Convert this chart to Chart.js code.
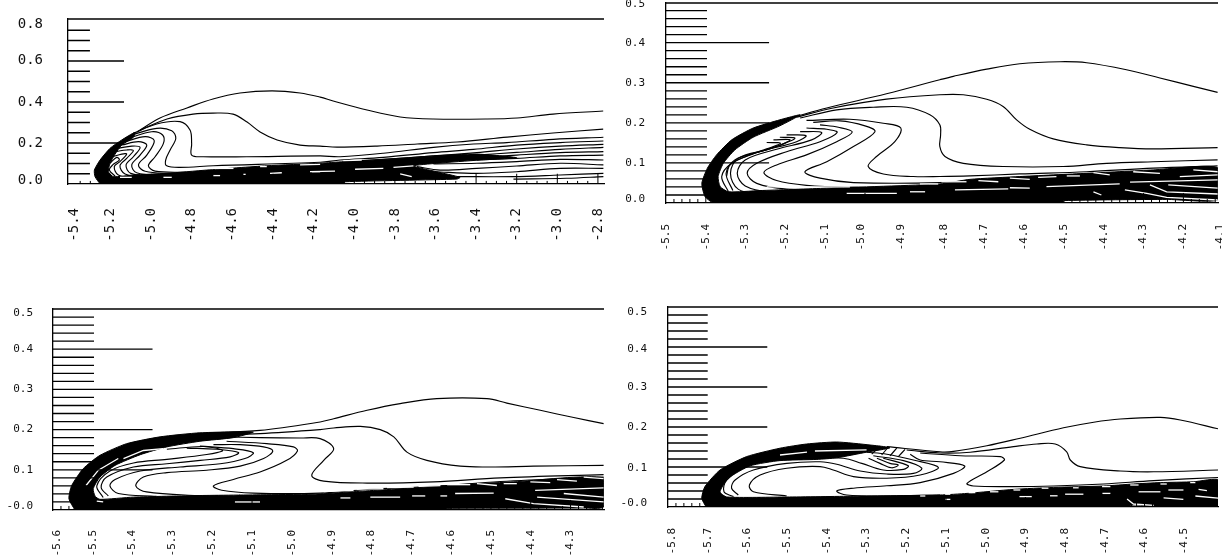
<!DOCTYPE html>
<html><head><meta charset="utf-8">
<script src="https://cdn.jsdelivr.net/npm/chart.js@4"></script>
<style>
html,body{margin:0;padding:0;background:#fff;width:1222px;height:560px;overflow:hidden}
canvas{position:absolute;display:block;filter:blur(0.3px)}
</style></head><body>
<canvas id="pa" style="left:0;top:0" width="612" height="280"></canvas>
<canvas id="pb" style="left:620px;top:0" width="602" height="280"></canvas>
<canvas id="pc" style="left:0;top:290px" width="612" height="270"></canvas>
<canvas id="pd" style="left:620px;top:290px" width="602" height="270"></canvas>
<script>
/* ---------- Panel A (top left) ---------- */
const aXTicks=[-5.38,-5.2,-5.0,-4.8,-4.6,-4.4,-4.2,-4.0,-3.8,-3.6,-3.4,-3.2,-3.0,-2.8];
const aXLabels=['-5.4','-5.2','-5.0','-4.8','-4.6','-4.4','-4.2','-4.0','-3.8','-3.6','-3.4','-3.2','-3.0','-2.8'];
const aYTicks=[0.02,0.2,0.4,0.605,0.78];
const aYLabels=['0.0','0.2','0.4','0.6','0.8'];
const aC1=[[-5.07,.254],[-4.957,.322],[-4.824,.371],[-4.696,.415],[-4.563,.444],[-4.405,.454],[-4.267,.444],[-4.168,.424],[-4.104,.405],[-3.937,.361],[-3.774,.327],[-3.612,.317],[-3.346,.317],[-3.198,.322],[-3.021,.341],[-2.774,.356]];
const aC2=[[-5.055,.263],[-4.922,.317],[-4.794,.341],[-4.696,.346],[-4.597,.341],[-4.528,.302],[-4.464,.254],[-4.38,.215],[-4.267,.19],[-4.168,.185],[-4.085,.18],[-3.888,.185],[-3.69,.195],[-3.494,.205],[-3.247,.229],[-3.021,.249],[-2.774,.268]];
const aC3=[[-5.088,.247],[-4.973,.293],[-4.858,.304],[-4.809,.263],[-4.801,.198],[-4.801,.141],[-4.743,.133],[-4.53,.133],[-4.168,.137],[-4.07,.133],[-3.857,.15],[-3.61,.179],[-3.413,.195],[-3.249,.202],[-3.019,.218],[-2.773,.228]];
const aC4=[[-5.096,.239],[-4.973,.2715],[-4.899,.26],[-4.879,.223],[-4.907,.166],[-4.929,.117],[-4.924,.089],[-4.858,.081],[-4.694,.089],[-4.168,.106],[-4.07,.117],[-3.857,.13],[-3.61,.153],[-3.413,.169],[-3.2,.19],[-2.986,.202],[-2.773,.21]];
const aC5=[[-5.113,.223],[-4.998,.255],[-4.944,.239],[-4.94,.198],[-4.981,.133],[-5.014,.089],[-4.981,.063],[-4.825,.057]];
const aC6=[[-5.129,.2065],[-5.03,.231],[-4.985,.211],[-5.022,.141],[-5.063,.093],[-5.03,.062],[-4.891,.049]];
const aC7=[[-5.145,.19],[-5.063,.2065],[-5.022,.19],[-5.055,.141],[-5.096,.093],[-5.072,.055],[-4.924,.039]];
const aC8=[[-5.162,.174],[-5.096,.185],[-5.055,.179],[-5.088,.133],[-5.124,.093],[-5.101,.052],[-4.957,.0325]];
const aC9=[[-5.178,.158],[-5.121,.166],[-5.088,.163],[-5.121,.125],[-5.154,.089],[-5.129,.049],[-5.006,.023]];
const aC10=[[-5.19,.133],[-5.145,.146],[-5.121,.146],[-5.154,.109],[-5.182,.085],[-5.162,.044],[-5.055,.02]];
const aC11=[[-5.203,.101],[-5.17,.13],[-5.157,.117],[-5.19,.093],[-5.206,.068],[-5.178,.039]];
const aF1=[[-4.054,.109],[-3.857,.12],[-3.61,.137],[-3.397,.153],[-3.2,.171],[-2.986,.185],[-2.773,.1935]];
const aF2=[[-3.857,.109],[-3.61,.125],[-3.397,.141],[-3.2,.154],[-2.986,.169],[-2.773,.179]];
const aF3=[[-3.61,.117],[-3.397,.128],[-3.2,.141],[-2.986,.153],[-2.773,.158]];
const aF4=[[-3.397,.117],[-3.2,.125],[-2.986,.137],[-2.773,.141]];
const aF5=[[-3.61,.098],[-3.397,.101],[-3.2,.109],[-2.986,.12],[-2.773,.117]];
const aF6=[[-3.692,.085],[-3.577,.068],[-3.397,.076],[-3.2,.088],[-2.986,.101],[-2.773,.093]];
const aF7=[[-3.61,.06],[-3.397,.052],[-3.2,.06],[-2.986,.076],[-2.773,.076]];
const aF8=[[-3.495,.036],[-3.216,.036],[-2.986,.044],[-2.773,.052]];
const aF9=[[-3.216,.024],[-2.954,.028],[-2.773,.036]];
const aMass=[[-5.252,0],[-5.277,.036],[-5.28,.068],[-5.252,.117],[-5.203,.174],[-5.145,.215],[-5.08,.252],[-5.088,.228],[-5.145,.19],[-5.178,.146],[-5.203,.101],[-5.211,.06],[-5.187,.036],[-5.088,.044],[-4.924,.052],[-4.727,.068],[-4.431,.089],[-4.168,.101],[-4.054,.109],[-3.857,.12],[-3.61,.137],[-3.397,.146],[-3.2,.128],[-3.38,.117],[-3.594,.101],[-3.709,.088],[-3.594,.06],[-3.479,.0325],[-3.495,.024],[-4.045,.011],[-4.05,0]];
const aSlits=[[[-5.154,.0325],[-5.096,.0325]],[[-4.94,.0325],[-4.899,.0325]],[[-4.694,.041],[-4.661,.041]],[[-4.546,.047],[-4.535,.047]],[[-4.415,.052],[-4.357,.055]],[[-4.209,.06],[-4.168,.06]],[[-4.727,.076],[-4.595,.076]],[[-4.464,.085],[-4.431,.085]],[[-4.267,.093],[-4.168,.096]],[[-4.218,.06],[-4.095,.063]],[[-3.996,.072],[-3.857,.076]],[[-3.807,.081],[-3.709,.088]],[[-3.774,.049],[-3.717,.036]],[[-4.054,.114],[-3.963,.117]]];

/* ---------- Panel B (top right) ---------- */
const bXTicks=[-5.5,-5.4,-5.3,-5.2,-5.1,-5.01,-4.91,-4.8,-4.7,-4.6,-4.5,-4.4,-4.3,-4.2,-4.108];
const bXLabels=['-5.5','-5.4','-5.3','-5.2','-5.1','-5.0','-4.9','-4.8','-4.7','-4.6','-4.5','-4.4','-4.3','-4.2','-4.1'];
const bYTicks=[0.01,0.1,0.2,0.3,0.4,0.495];
const bYLabels=['0.0','0.1','0.2','0.3','0.4','0.5'];
const bC1=[[-5.18,.214],[-5.096,.237],[-4.946,.2725],[-4.812,.3075],[-4.778,.316],[-4.694,.334],[-4.611,.3475],[-4.51,.3525],[-4.443,.35],[-4.343,.3325],[-4.259,.312],[-4.175,.291],[-4.114,.276]];
const bC2=[[-5.172,.214],[-5.08,.237],[-4.946,.259],[-4.812,.27],[-4.753,.27],[-4.694,.259],[-4.653,.241],[-4.619,.2075],[-4.586,.184],[-4.527,.16],[-4.443,.145],[-4.36,.138],[-4.276,.135],[-4.114,.138]];
const bC3=[[-5.163,.212],[-5.071,.2325],[-4.979,.239],[-4.895,.239],[-4.837,.22],[-4.812,.195],[-4.81,.17],[-4.812,.141],[-4.799,.116],[-4.753,.099],[-4.653,.091],[-4.502,.091],[-4.393,.099],[-4.276,.103],[-4.114,.1075]];
const bC4=[[-5.147,.206],[-5.038,.209],[-4.954,.199],[-4.91,.187],[-4.925,.153],[-4.971,.116],[-4.992,.091],[-4.954,.0725],[-4.879,.066],[-4.812,.066],[-4.736,.0675],[-4.611,.0725],[-4.443,.078],[-4.276,.087],[-4.114,.0925]];
const bC5=[[-5.13,.201],[-5.063,.205],[-5.0,.1925],[-4.975,.178],[-5.029,.141],[-5.096,.103],[-5.151,.078],[-5.113,.062],[-5.029,.051],[-4.812,.051],[-4.611,.064],[-4.443,.0725],[-4.114,.087]];
const bC6=[[-5.113,.195],[-5.067,.189],[-5.032,.177],[-5.071,.153],[-5.147,.12],[-5.222,.095],[-5.254,.076],[-5.222,.056],[-5.147,.044],[-5.029,.039],[-4.812,.037]];
const bC7=[[-5.147,.187],[-5.096,.184],[-5.07,.176],[-5.113,.153],[-5.197,.128],[-5.272,.099],[-5.296,.074],[-5.272,.049],[-5.197,.035],[-5.029,.031]];
const bC8=[[-5.163,.178],[-5.109,.176],[-5.134,.1575],[-5.222,.134],[-5.301,.1075],[-5.321,.074],[-5.301,.0425],[-5.239,.028],[-5.029,.0225]];
const bC9=[[-5.197,.17],[-5.148,.168],[-5.172,.153],[-5.247,.1325],[-5.318,.112],[-5.338,.074],[-5.318,.034],[-5.247,.02]];
const bC10=[[-5.214,.164],[-5.176,.162],[-5.205,.1475],[-5.264,.128],[-5.327,.1075],[-5.349,.074],[-5.332,.031]];
const bC11=[[-5.23,.1575],[-5.188,.1575],[-5.222,.141],[-5.281,.1225],[-5.335,.099],[-5.36,.066],[-5.343,.028]];
const bC12=[[-5.247,.151],[-5.212,.149],[-5.247,.135],[-5.297,.1175],[-5.339,.095],[-5.348,.066]];
const bMass=[[-5.383,0],[-5.402,.016],[-5.41,.049],[-5.396,.087],[-5.373,.12],[-5.335,.1575],[-5.281,.187],[-5.214,.2075],[-5.163,.22],[-5.214,.1925],[-5.281,.164],[-5.327,.1325],[-5.356,.099],[-5.369,.066],[-5.364,.041],[-5.343,.028],[-5.264,.031],[-5.096,.037],[-4.812,.0475],[-4.736,.059],[-4.611,.066],[-4.443,.074],[-4.276,.0825],[-4.114,.088],[-4.114,.0075],[-4.242,.009],[-4.5,.006],[-4.502,0]];
const bSlits=[[[-5.247,.04],[-5.038,.04]],[[-5.046,.024],[-4.92,.024]],[[-4.887,.028],[-4.849,.028]],[[-4.862,.0475],[-4.816,.0475]],[[-4.808,.053],[-4.745,.053]],[[-4.774,.0325],[-4.64,.035]],[[-4.715,.056],[-4.665,.053]],[[-4.636,.038],[-4.586,.037]],[[-4.636,.062],[-4.586,.059]],[[-4.565,.064],[-4.519,.066]],[[-4.544,.041],[-4.36,.0475]],[[-4.493,.0675],[-4.46,.0675]],[[-4.426,.028],[-4.406,.02]],[[-4.347,.0325],[-4.292,.024],[-4.242,.014],[-4.114,.0075]],[[-4.284,.045],[-4.242,.028],[-4.114,.0225]],[[-4.334,.052],[-4.114,.0575]],[[-4.238,.045],[-4.114,.037]],[[-4.426,.076],[-4.385,.07]],[[-4.326,.078],[-4.259,.074]],[[-4.175,.0825],[-4.114,.078]],[[-4.209,.066],[-4.114,.07]]];

/* ---------- Panel C (bottom left) ---------- */
const cXTicks=[-5.59,-5.5,-5.4,-5.3,-5.2,-5.1,-5.0,-4.9,-4.8,-4.7,-4.6,-4.5,-4.4,-4.3];
const cXLabels=['-5.6','-5.5','-5.4','-5.3','-5.2','-5.1','-5.0','-4.9','-4.8','-4.7','-4.6','-4.5','-4.4','-4.3'];
const cYTicks=[0.009,0.1,0.2,0.3,0.4,0.489];
const cYLabels=['-0.0','0.1','0.2','0.3','0.4','0.5'];
const cC1=[[-5.214,.1915],[-5.08,.198],[-4.929,.219],[-4.895,.227],[-4.811,.248],[-4.728,.2645],[-4.636,.277],[-4.51,.277],[-4.46,.266],[-4.376,.248],[-4.292,.23],[-4.217,.215]];
const cC2=[[-5.197,.187],[-5.08,.19],[-4.929,.2],[-4.895,.204],[-4.828,.208],[-4.778,.2],[-4.744,.182],[-4.711,.144],[-4.661,.1235],[-4.577,.109],[-4.502,.107],[-4.393,.109],[-4.217,.111]];
const cC3=[[-5.18,.182],[-5.08,.18],[-4.979,.179],[-4.929,.1775],[-4.895,.1525],[-4.92,.1235],[-4.95,.086],[-4.92,.072],[-4.811,.067],[-4.644,.07],[-4.476,.08],[-4.217,.088]];
const cC4=[[-5.164,.171],[-5.063,.165],[-4.996,.157],[-4.986,.147],[-5.013,.1235],[-5.08,.0945],[-5.147,.076],[-5.197,.06],[-5.176,.049],[-5.097,.042],[-4.929,.042],[-4.811,.051],[-4.644,.059],[-4.476,.071],[-4.217,.082]];
const cC5=[[-5.197,.1625],[-5.13,.1625],[-5.071,.157],[-5.048,.147],[-5.071,.128],[-5.13,.109],[-5.214,.099],[-5.314,.093],[-5.373,.082],[-5.392,.06],[-5.365,.045],[-5.239,.036],[-5.147,.034]];
const cC6=[[-5.231,.159],[-5.147,.1525],[-5.097,.1425],[-5.118,.128],[-5.18,.115],[-5.281,.107],[-5.381,.097],[-5.444,.076],[-5.457,.06],[-5.436,.041],[-5.34,.034]];
const cC7=[[-5.264,.154],[-5.189,.151],[-5.134,.143],[-5.155,.132],[-5.23,.1235],[-5.314,.115],[-5.398,.107],[-5.465,.082],[-5.479,.056],[-5.461,.035]];
const cC8=[[-5.314,.151],[-5.222,.158],[-5.174,.148],[-5.214,.138],[-5.314,.126],[-5.398,.117],[-5.457,.097],[-5.49,.06],[-5.474,.031]];
const cMass=[[-5.545,0],[-5.56,.028],[-5.553,.061],[-5.524,.103],[-5.482,.136],[-5.415,.165],[-5.331,.182],[-5.231,.192],[-5.097,.194],[-5.147,.18],[-5.231,.171],[-5.314,.157],[-5.381,.1375],[-5.444,.111],[-5.482,.082],[-5.499,.053],[-5.494,.034],[-5.482,.0265],[-5.398,.032],[-5.231,.036],[-5.063,.038],[-4.929,.04],[-4.837,.046],[-4.686,.0555],[-4.61,.061],[-4.443,.07],[-4.217,.08],[-4.217,.0075],[-4.267,.005],[-4.61,.004],[-4.612,0]];
const cSlits=[[[-4.878,.03],[-4.853,.03]],[[-4.803,.032],[-4.728,.032]],[[-4.698,.035],[-4.665,.035]],[[-4.627,.035],[-4.61,.035]],[[-4.59,.041],[-4.493,.042]],[[-4.464,.028],[-4.393,.016],[-4.267,.0075]],[[-4.389,.049],[-4.217,.055]],[[-4.384,.032],[-4.217,.02]],[[-4.317,.041],[-4.217,.032]],[[-4.92,.046],[-4.845,.049]],[[-4.837,.052],[-4.77,.053]],[[-4.761,.056],[-4.694,.057]],[[-4.682,.059],[-4.627,.0605]],[[-4.61,.063],[-4.552,.063]],[[-4.535,.0655],[-4.485,.061]],[[-4.468,.0655],[-4.435,.0655]],[[-4.401,.07],[-4.351,.068]],[[-4.334,.0755],[-4.284,.072]],[[-4.267,.082],[-4.217,.078]],[[-5.143,.02],[-5.08,.02]],[[-5.49,.022],[-5.474,.02]],[[-5.517,.061],[-5.486,.099],[-5.436,.128]],[[-5.423,.128],[-5.373,.148],[-5.323,.1525]]];

/* ---------- Panel D (bottom right) ---------- */
const dXTicks=[-5.79,-5.7,-5.6,-5.5,-5.4,-5.3,-5.2,-5.1,-5.0,-4.9,-4.8,-4.7,-4.6,-4.5];
const dXLabels=['-5.8','-5.7','-5.6','-5.5','-5.4','-5.3','-5.2','-5.1','-5.0','-4.9','-4.8','-4.7','-4.6','-4.5'];
const dYTicks=[0.01,0.0975,0.2,0.3,0.395,0.4875];
const dYLabels=['-0.0','0.1','0.2','0.3','0.4','0.5'];
const dC1=[[-5.249,.151],[-5.115,.138],[-5.081,.139],[-4.997,.153],[-4.913,.172],[-4.804,.198],[-4.728,.212],[-4.661,.22],[-4.56,.224],[-4.51,.2175],[-4.412,.195]];
const dC2=[[-5.199,.1425],[-5.115,.135],[-5.039,.137],[-4.93,.151],[-4.871,.1575],[-4.825,.1575],[-4.796,.138],[-4.787,.1175],[-4.762,.101],[-4.661,.09],[-4.577,.088],[-4.412,.0925]];
const dC3=[[-5.165,.135],[-5.064,.128],[-4.963,.126],[-4.953,.1175],[-4.997,.088],[-5.047,.059],[-5.031,.0525],[-4.93,.051],[-4.829,.0525],[-4.703,.0575],[-4.577,.066],[-4.412,.074]];
const dC4=[[-5.19,.132],[-5.165,.1175],[-5.115,.113],[-5.053,.1025],[-5.081,.084],[-5.165,.061],[-5.249,.053],[-5.333,.047],[-5.375,.04],[-5.35,.03],[-5.249,.0275],[-5.115,.03]];
const dC5=[[-5.3,.137],[-5.249,.132],[-5.182,.1175],[-5.119,.099],[-5.165,.08],[-5.249,.072],[-5.333,.076],[-5.384,.0925],[-5.417,.101],[-5.501,.097],[-5.568,.08],[-5.595,.055],[-5.585,.038],[-5.501,.0275]];
const dC6=[[-5.283,.128],[-5.207,.116],[-5.161,.097],[-5.182,.084],[-5.249,.0825],[-5.316,.09],[-5.375,.107],[-5.417,.113],[-5.501,.109],[-5.585,.0925],[-5.631,.0675],[-5.64,.047],[-5.623,.03]];
const dC7=[[-5.258,.122],[-5.195,.103],[-5.207,.094],[-5.258,.0925],[-5.312,.109],[-5.358,.122],[-5.425,.122],[-5.518,.1175],[-5.593,.105],[-5.652,.0675],[-5.659,.038],[-5.635,.026]];
const dC8=[[-5.274,.122],[-5.241,.109],[-5.22,.105],[-5.237,.098],[-5.266,.109],[-5.295,.122]];
const dH1=[[-5.266,.1525],[-5.287,.132]];
const dH2=[[-5.245,.15],[-5.262,.13]];
const dH3=[[-5.224,.147],[-5.241,.128]];
const dH4=[[-5.203,.144],[-5.22,.126]];
const dMass=[[-5.704,0],[-5.715,.022],[-5.707,.051],[-5.669,.0925],[-5.602,.126],[-5.518,.147],[-5.451,.1575],[-5.375,.1625],[-5.291,.155],[-5.241,.148],[-5.3,.137],[-5.375,.123],[-5.425,.119],[-5.518,.116],[-5.593,.103],[-5.648,.072],[-5.669,.038],[-5.652,.025],[-5.501,.025],[-5.333,.027],[-5.115,.03],[-5.047,.034],[-4.93,.044],[-4.829,.049],[-4.703,.0525],[-4.628,.0575],[-4.56,.061],[-4.477,.063],[-4.412,.0675],[-4.412,.0025],[-4.577,.0025],[-4.627,.005],[-4.644,0]];
const dSlits=[[[-5.165,.0275],[-5.152,.0275]],[[-5.102,.032],[-5.089,.032]],[[-5.102,.019],[-5.089,.019]],[[-5.043,.036],[-5.026,.036]],[[-4.989,.038],[-4.968,.038]],[[-4.93,.0425],[-4.913,.0425]],[[-4.915,.026],[-4.884,.026]],[[-4.859,.047],[-4.842,.047]],[[-4.838,.028],[-4.819,.028]],[[-4.8,.032],[-4.754,.032]],[[-4.78,.048],[-4.766,.048]],[[-4.707,.051],[-4.686,.051]],[[-4.706,.034],[-4.686,.034]],[[-4.636,.055],[-4.615,.055]],[[-4.615,.038],[-4.56,.038]],[[-4.56,.0575],[-4.544,.0575]],[[-4.552,.023],[-4.502,.019]],[[-4.54,.0425],[-4.502,.0425]],[[-4.485,.061],[-4.472,.061]],[[-4.464,.044],[-4.443,.041]],[[-4.472,.0275],[-4.412,.022]],[[-4.644,.02],[-4.628,.0075],[-4.577,.004]],[[-5.518,.13],[-5.45,.137]],[[-5.43,.14],[-5.3,.143]]];

function seq(from,to,step){const r=[];const n=Math.round((to-from)/step);for(let i=0;i<=n;i++)r.push(+(from+i*step).toFixed(4));return r;}
function isMul(v,step){return Math.abs(v/step-Math.round(v/step))<1e-6;}
function hTicks(xmin,vals,major,lenMinor,lenMajor){const o=[];vals.forEach(v=>{const l=isMul(v,major)?lenMajor:lenMinor;o.push([xmin,v],[xmin+l,v],[xmin,NaN]);});return o;}
function vTicks(vals,major,lenMinor,lenMajor){const o=[];vals.forEach(v=>{const l=isMul(v,major)?lenMajor:lenMinor;o.push([v,0],[v,l],[v,NaN]);});return o;}

function panel(id,c){
  const ink='#000';
  const base={pointRadius:0,pointHitRadius:0,showLine:true,fill:false};
  const ds=[];
  ds.push({...base,data:hTicks(c.xmin,c.yMinor,c.yMajorStep,c.lenYMinor,c.lenYMajor),borderColor:ink,borderWidth:1.3,tension:0});
  ds.push({...base,data:vTicks(c.xMinor,c.xMajorStep,c.lenXMinor,c.lenXMajor),borderColor:ink,borderWidth:1,tension:0});
  ds.push({...base,data:[[c.xmin,c.ymax],[c.xmax,c.ymax]],borderColor:ink,borderWidth:1.3,tension:0,clip:false});
  c.slits.forEach(s=>ds.push({...base,data:s,borderColor:'#fff',borderWidth:1.3,tension:0}));
  ds.push({...base,data:c.mass,borderColor:'#000',borderWidth:1,backgroundColor:'#000',fill:'shape',tension:0.2});
  c.lines.forEach(l=>ds.push({...base,data:l,borderColor:ink,borderWidth:1.15,tension:0.35}));
  new Chart(document.getElementById(id),{
    type:'scatter',
    data:{datasets:ds},
    options:{
      responsive:false,animation:false,devicePixelRatio:1,
      layout:{padding:{top:c.top,right:c.right,left:0,bottom:0}},
      plugins:{legend:{display:false},tooltip:{enabled:false}},
      events:[],
      scales:{
        x:{type:'linear',min:c.xmin,max:c.xmax,
          grid:{display:false,drawTicks:false},
          border:{display:true,color:ink,width:1.3},
          ticks:{autoSkip:false,minRotation:90,maxRotation:90,padding:c.xPad,color:'#111',
            font:{family:'"DejaVu Sans Mono"',size:c.fsX},
            callback:(v,i)=>c.xLabels[i]},
          afterBuildTicks:s=>{s.ticks=c.xTicks.map(v=>({value:v}));},
          afterFit:s=>{s.height=c.xH;s.paddingLeft=0;s.paddingRight=0;}},
        y:{type:'linear',min:0,max:c.ymax,
          grid:{display:false,drawTicks:false},
          border:{display:true,color:ink,width:1.3},
          ticks:{autoSkip:false,padding:c.yPad,color:'#111',
            font:{family:'"DejaVu Sans Mono"',size:c.fsY},
            callback:(v,i)=>c.yLabels[i]},
          afterBuildTicks:s=>{s.ticks=c.yTicks.map(v=>({value:v}));},
          afterFit:s=>{s.width=c.yW;s.paddingTop=0;s.paddingBottom=0;}}
      }
    }
  });
}

panel('pa',{xmin:-5.41,xmax:-2.77,ymax:.805,top:19,right:8,yW:68,xH:96,xPad:24,yPad:25,fsX:14,fsY:14,
  xTicks:aXTicks,xLabels:aXLabels,yTicks:aYTicks,yLabels:aYLabels,
  yMinor:seq(.05,.75,.05),yMajorStep:.2,lenYMinor:.108,lenYMajor:.276,
  xMinor:seq(-5.35,-2.8,.05),xMajorStep:.2,lenXMinor:.015,lenXMajor:.05,
  mass:aMass,slits:aSlits,lines:[aC1,aC2,aC3,aC4,aC5,aC6,aC7,aC8,aC9,aC10,aC11,aF1,aF2,aF3,aF4,aF5,aF6,aF7,aF8,aF9]});
panel('pb',{xmin:-5.5,xmax:-4.113,ymax:.499,top:3,right:4,yW:46,xH:77,xPad:21,yPad:21,fsX:11,fsY:11,
  xTicks:bXTicks,xLabels:bXLabels,yTicks:bYTicks,yLabels:bYLabels,
  yMinor:seq(.02,.48,.02).concat([.1,.2,.3,.4]),yMajorStep:.1,lenYMinor:.103,lenYMajor:.259,
  xMinor:seq(-5.48,-4.12,.02),xMajorStep:.1,lenXMinor:.01,lenXMajor:.025,
  mass:bMass,slits:bSlits,lines:[bC1,bC2,bC3,bC4,bC5,bC6,bC7,bC8,bC9,bC10,bC11,bC12]});
panel('pc',{xmin:-5.6,xmax:-4.216,ymax:.5,top:19,right:8,yW:53,xH:50,xPad:20,yPad:20,fsX:11,fsY:11,
  xTicks:cXTicks,xLabels:cXLabels,yTicks:cYTicks,yLabels:cYLabels,
  yMinor:seq(.02,.48,.02).concat([.1,.2,.3,.4]),yMajorStep:.1,lenYMinor:.103,lenYMajor:.25,
  xMinor:seq(-5.58,-4.22,.02),xMajorStep:.1,lenXMinor:.01,lenXMajor:.025,
  mass:cMass,slits:cSlits,lines:[cC1,cC2,cC3,cC4,cC5,cC6,cC7,cC8]});
panel('pd',{xmin:-5.8,xmax:-4.415,ymax:.5,top:17,right:4,yW:48,xH:53,xPad:21,yPad:21,fsX:11,fsY:11,
  xTicks:dXTicks,xLabels:dXLabels,yTicks:dYTicks,yLabels:dYLabels,
  yMinor:seq(.02,.48,.02).concat([.1,.2,.3,.4]),yMajorStep:.1,lenYMinor:.1,lenYMajor:.25,
  xMinor:seq(-5.78,-4.42,.02),xMajorStep:.1,lenXMinor:.01,lenXMajor:.025,
  mass:dMass,slits:dSlits,lines:[dC1,dC2,dC3,dC4,dC5,dC6,dC7,dC8,dH1,dH2,dH3,dH4]});
</script>
</body></html>
